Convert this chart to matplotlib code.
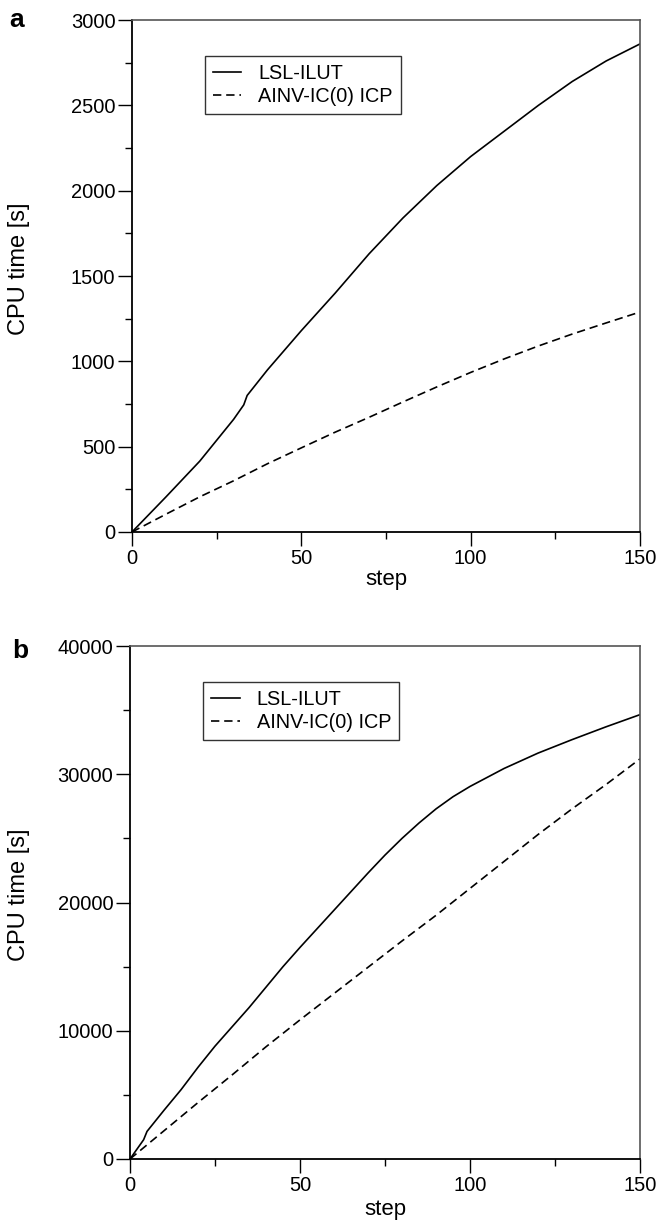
"""
CPU time versus step for the two preconditioners (panels a and b).
"""
import matplotlib
matplotlib.use("Agg")
import matplotlib.pyplot as plt
from matplotlib.ticker import MultipleLocator

plt.rcParams["font.family"] = ["Liberation Sans", "DejaVu Sans"]
plt.rcParams["lines.scale_dashes"] = False

LABELS = ["LSL-ILUT", "AINV-IC(0) ICP"]

# panel a
steps_a_solid = [0, 10, 20, 30, 33, 34, 40, 50, 60, 70, 80, 90, 100, 110, 120, 130, 140, 150]
cpu_a_solid = [0, 205, 415, 660, 745, 800, 950, 1180, 1400, 1630, 1840, 2030, 2200,
               2350, 2500, 2640, 2760, 2860]
steps_a_dash = [0, 10, 20, 30, 40, 50, 60, 70, 80, 90, 100, 110, 120, 130, 140, 150]
cpu_a_dash = [0, 104, 206, 300, 400, 493, 585, 672, 762, 850, 935, 1015, 1090, 1160,
              1225, 1289]

# panel b
steps_b_solid = [0, 4, 5, 10, 15, 20, 25, 30, 35, 40, 45, 50, 60, 70, 75, 80, 85, 90,
                 95, 100, 110, 120, 130, 140, 150]
cpu_b_solid = [0, 1500, 2150, 3800, 5400, 7150, 8800, 10300, 11800, 13400, 15000,
               16500, 19400, 22300, 23700, 25000, 26200, 27300, 28250, 29050, 30450,
               31650, 32700, 33700, 34650]
steps_b_dash = [0, 10, 20, 30, 40, 50, 60, 70, 80, 90, 100, 110, 120, 130, 140, 150]
cpu_b_dash = [0, 2200, 4400, 6550, 8750, 10850, 12900, 14950, 17000, 19000, 21100,
              23200, 25300, 27300, 29200, 31200]


def style_axes(ax, ymax, ymajor, yminor, ylab_x, xlab_y):
    ax.set_xlim(0, 150)
    ax.set_ylim(0, ymax)
    ax.xaxis.set_major_locator(MultipleLocator(50))
    ax.xaxis.set_minor_locator(MultipleLocator(25))
    ax.yaxis.set_major_locator(MultipleLocator(ymajor))
    ax.yaxis.set_minor_locator(MultipleLocator(yminor))
    ax.tick_params(which="major", direction="out", length=10, width=1,
                   labelsize=14.5, pad=2, top=False, right=False)
    ax.tick_params(which="minor", direction="out", length=5, width=1,
                   top=False, right=False)
    for side in ["left", "bottom"]:
        ax.spines[side].set_linewidth(1.3)
        ax.spines[side].set_color("black")
    for side in ["top", "right"]:
        ax.spines[side].set_linewidth(1.2)
        ax.spines[side].set_color("#555555")
    ax.set_xlabel("step", fontsize=16)
    ax.set_ylabel("CPU time [s]", fontsize=17)
    ax.xaxis.set_label_coords(0.5, xlab_y)
    ax.yaxis.set_label_coords(ylab_x, 0.515)
    leg = ax.legend(loc="upper left", bbox_to_anchor=(0.143, 0.93), fontsize=14.3,
                    frameon=True, fancybox=False, handlelength=1.45,
                    handletextpad=0.85, borderpad=0.4, labelspacing=0.2,
                    borderaxespad=0)
    leg.get_frame().set_edgecolor("black")
    leg.get_frame().set_linewidth(1.0)


fig = plt.figure(figsize=(6.59, 12.21), dpi=100)
ax_a = fig.add_axes([0.2003, 0.5643, 0.7709, 0.4193])
ax_b = fig.add_axes([0.1973, 0.0508, 0.7739, 0.4201])

ax_a.plot(steps_a_solid, cpu_a_solid, color="black", lw=1.2, label=LABELS[0])
ax_a.plot(steps_a_dash, cpu_a_dash, color="black", lw=1.2, dashes=(6, 3.5),
          label=LABELS[1])
style_axes(ax_a, 3000, 500, 250, -0.20, -0.072)

ax_b.plot(steps_b_solid, cpu_b_solid, color="black", lw=1.2, label=LABELS[0])
ax_b.plot(steps_b_dash, cpu_b_dash, color="black", lw=1.2, dashes=(6, 3.5),
          label=LABELS[1])
style_axes(ax_b, 40000, 10000, 5000, -0.196, -0.078)

fig.text(0.014, 1 - 27 / 1221, "a", fontsize=19, fontweight="bold", va="baseline")
fig.text(0.019, 1 - 658 / 1221, "b", fontsize=19, fontweight="bold", va="baseline")

fig.savefig("out.png", dpi=100)
